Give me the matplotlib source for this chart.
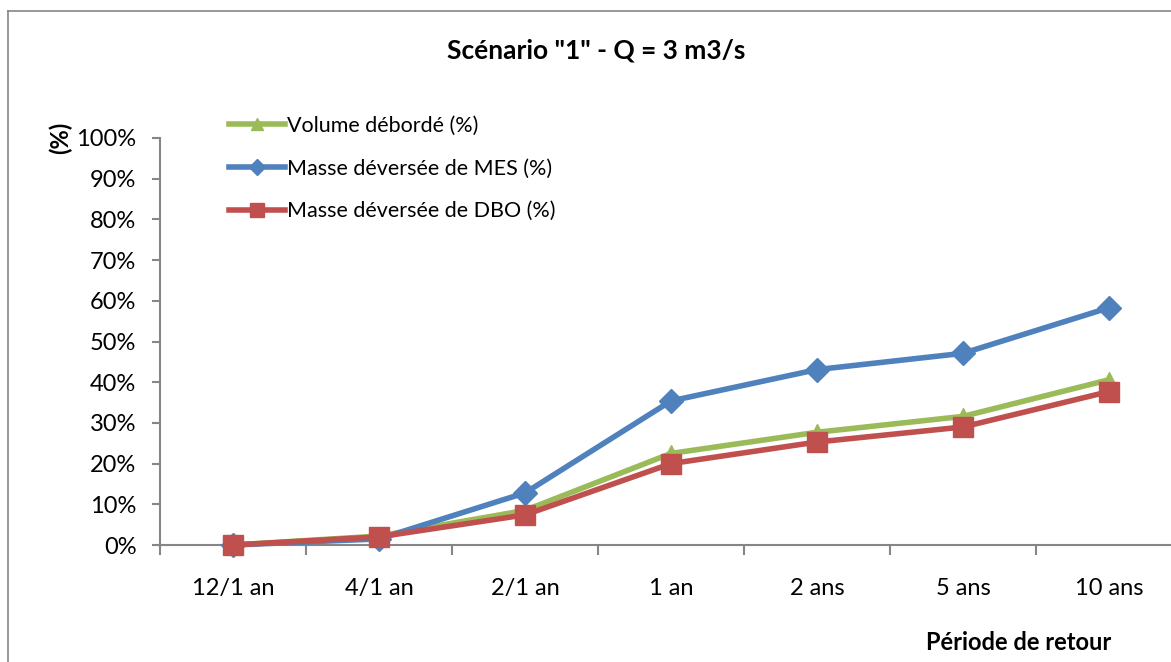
import matplotlib.pyplot as plt
from matplotlib.lines import Line2D
from matplotlib.ticker import FixedLocator, PercentFormatter

# return periods and overflow percentages per scenario
periodes = ['12/1 an', '4/1 an', '2/1 an', '1 an', '2 ans', '5 ans', '10 ans']
volume_deborde = [0.0, 2.2, 8.5, 22.5, 27.7, 31.6, 40.6]
masse_mes = [0.0, 1.5, 12.8, 35.4, 43.1, 47.1, 58.3]
masse_dbo = [0.0, 2.0, 7.4, 20.0, 25.3, 29.0, 37.7]

plt.rcParams['font.family'] = ['Lato', 'DejaVu Sans']

W, H = 1171, 662
fig = plt.figure(figsize=(W / 100, H / 100), dpi=100)

# plot area: x from 160px to 1182px (runs past the right edge), y 0% at 545px, 100% at 138px
ax = fig.add_axes([160 / W, 1 - 545 / H, (1182 - 160) / W, (545 - 138) / H])

x = list(range(len(periodes)))
l1, = ax.plot(x, volume_deborde, color='#9BBB59', lw=4, marker='^', ms=12,
              label='Volume débordé (%)', zorder=3)
l2, = ax.plot(x, masse_mes, color='#4F81BD', lw=4, marker='D', ms=12,
              label='Masse déversée de MES (%)', zorder=4)
l3, = ax.plot(x, masse_dbo, color='#C0504D', lw=4, marker='s', ms=15,
              label='Masse déversée de DBO (%)', zorder=5)

ax.set_xlim(-0.5, len(periodes) - 0.5)
ax.set_ylim(0, 100)
ax.set_yticks(range(0, 101, 10))
ax.yaxis.set_major_formatter(PercentFormatter(decimals=0))
ax.set_xticks(x)
ax.set_xticklabels(periodes)
ax.xaxis.set_minor_locator(FixedLocator([i - 0.5 for i in range(len(periodes) + 1)]))

for s in ['top', 'right']:
    ax.spines[s].set_visible(False)
for s in ['left', 'bottom']:
    ax.spines[s].set_color('#868686')
    ax.spines[s].set_linewidth(1.5)

ax.tick_params(axis='y', direction='out', length=6, width=1.5, color='#868686',
               labelsize=17, pad=11)
ax.tick_params(axis='x', which='major', length=0, labelsize=17, pad=24)
ax.tick_params(axis='x', which='minor', direction='out', length=7, width=1.5,
               color='#868686')
for ln in (l1, l2, l3):
    ln.set_clip_on(False)

fig.text(596 / W, 1 - 50 / H, 'Scénario "1" - Q = 3 m3/s', ha='center', va='center',
         fontsize=19, fontweight='bold')
fig.text(60 / W, 1 - 138 / H, '(%)', rotation=90, ha='center', va='center',
         fontsize=17, fontweight='bold')
fig.text(1111 / W, 1 - 643 / H, 'Période de retour', ha='right', va='center',
         fontsize=17, fontweight='bold')

leg = fig.legend(handles=[l1, l2, l3], loc='upper left',
                 bbox_to_anchor=(229 / W, 1 - 116 / H),
                 frameon=False, fontsize=15.5, handlelength=2.6, handletextpad=0.1,
                 labelspacing=1.05, markerscale=0.7, borderaxespad=0, borderpad=0)

# chart frame (left and top edges)
fig.add_artist(Line2D([8 / W, 8 / W], [0, 1 - 11 / H], color='#868686', lw=1.2))
fig.add_artist(Line2D([8 / W, 1], [1 - 11 / H, 1 - 11 / H], color='#868686', lw=1.2))

fig.savefig('out.png', dpi=100)
